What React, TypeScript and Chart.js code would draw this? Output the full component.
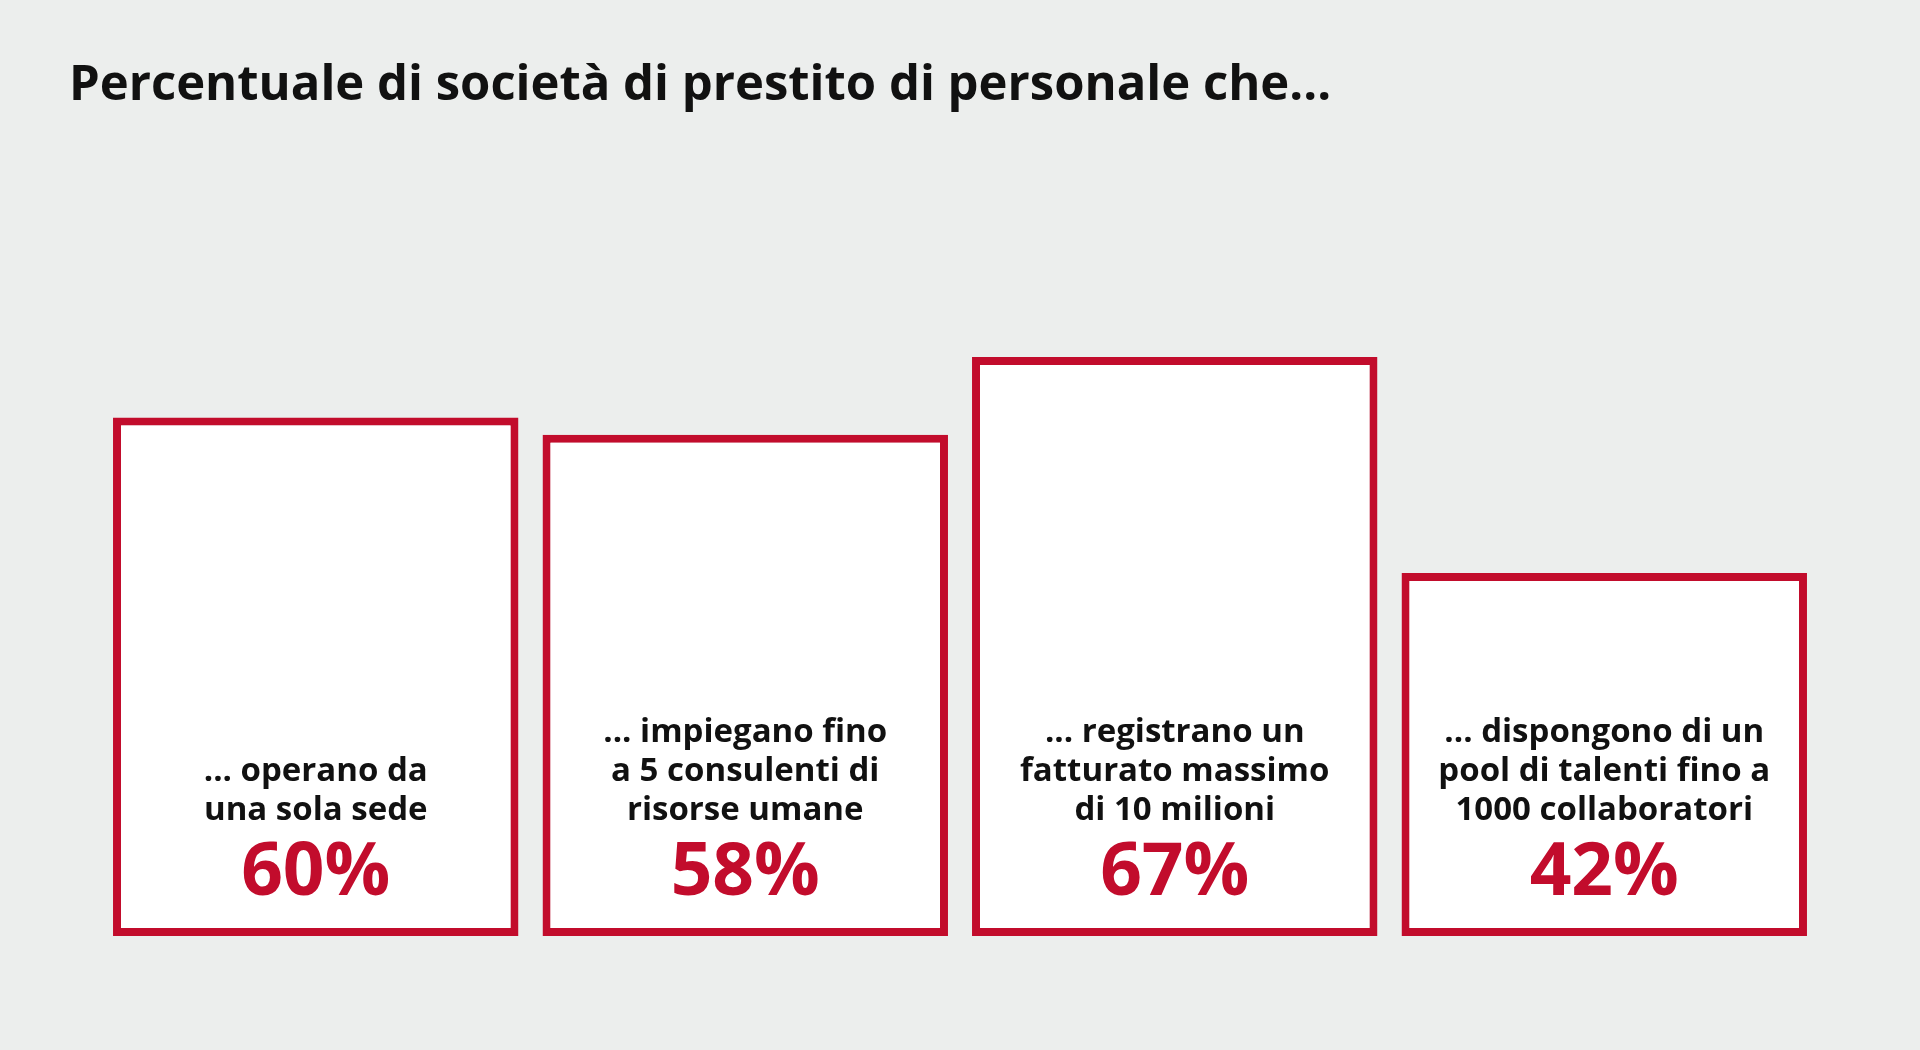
import React, { useEffect, useRef } from "react";
import { Chart, registerables } from "chart.js";

Chart.register(...registerables);

const TITLE = "Percentuale di società di prestito di personale che...";
const categories = ["Sede unica", "Consulenti HR", "Fatturato", "Pool di talenti"];
const values = [60, 58, 67, 42];
const labelLines = [
  ["... operano da", "una sola sede"],
  ["... impiegano fino", "a 5 consulenti di", "risorse umane"],
  ["... registrano un", "fatturato massimo", "di 10 milioni"],
  ["... dispongono di un", "pool di talenti fino a", "1000 collaboratori"],
];

const RED = "#C20C2C";
const BG = "#ECEEED";
const INK = "#111111";

const decorPlugin = {
  id: "decor",
  beforeDraw(chart: any) {
    const ctx = chart.ctx;
    ctx.save();
    ctx.fillStyle = BG;
    ctx.fillRect(0, 0, chart.width, chart.height);
    ctx.restore();
  },
  afterDatasetsDraw(chart: any) {
    const ctx = chart.ctx;
    ctx.save();
    ctx.fillStyle = INK;
    ctx.font = 'bold 49px "Open Sans"';
    ctx.textAlign = "left";
    ctx.textBaseline = "middle";
    ctx.fillText(TITLE, 69, 86);

    const meta = chart.getDatasetMeta(0);
    meta.data.forEach((bar: any, i: number) => {
      const { x, base } = bar.getProps(["x", "base"], true);
      ctx.textAlign = "center";
      ctx.textBaseline = "middle";
      ctx.fillStyle = RED;
      ctx.font = 'bold 73px "Open Sans"';
      ctx.fillText(`${values[i]}%`, x, base - 62);
      ctx.fillStyle = INK;
      ctx.font = 'bold 33px "Open Sans"';
      const lines = labelLines[i];
      lines.forEach((l: string, j: number) => {
        ctx.fillText(l, x, base - 125 - (lines.length - 1 - j) * 39);
      });
    });
    ctx.restore();
  },
};

export default function App() {
  const ref = useRef<HTMLCanvasElement>(null);
  useEffect(() => {
    const canvas = ref.current;
    if (!canvas) return;
    const chart = new Chart(canvas, {
      type: "bar",
      data: {
        labels: categories,
        datasets: [
          {
            data: values,
            backgroundColor: "#FFFFFF",
            borderColor: RED,
            borderWidth: 8,
            borderSkipped: false,
            categoryPercentage: 1,
            barPercentage: 0.944,
          },
        ],
      },
      options: {
        responsive: false,
        animation: false,
        devicePixelRatio: 1,
        layout: { padding: { left: 101, right: 101, top: 76, bottom: 114 } },
        plugins: {
          legend: { display: false },
          tooltip: { enabled: false },
          title: { display: false },
        },
        scales: {
          x: { display: false },
          y: { display: false, min: 0, max: 99.5 },
        },
      },
      plugins: [decorPlugin],
    });
    return () => chart.destroy();
  }, []);
  return (
    <div style={{ position: "fixed", left: 0, top: 0, width: 1920, height: 1050, background: BG }}>
      <canvas ref={ref} width={1920} height={1050} style={{ display: "block" }} />
    </div>
  );
}
